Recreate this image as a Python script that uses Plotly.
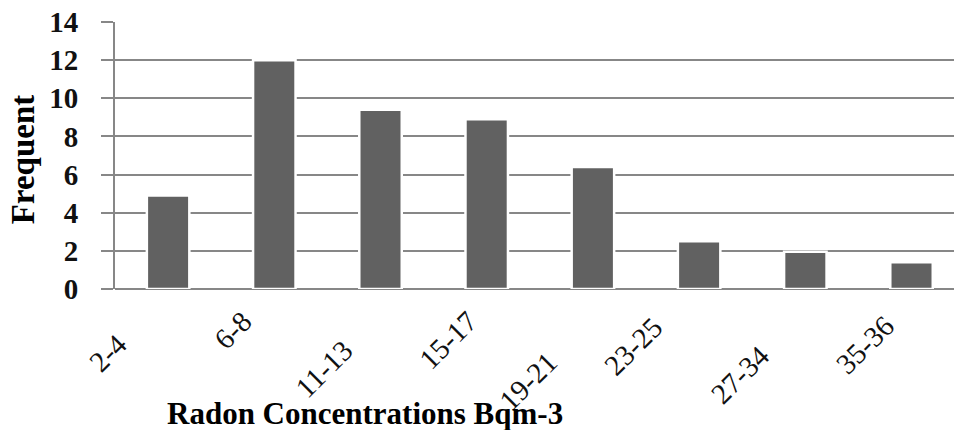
import plotly.graph_objects as go

categories = ["2-4", "6-8", "11-13", "15-17", "19-21", "23-25", "27-34", "35-36"]
frequency = [4.9, 12.0, 9.4, 8.9, 6.4, 2.5, 1.95, 1.4]
y_ticks = [0, 2, 4, 6, 8, 10, 12, 14]

# label placement offsets (px) of each rotated category label's top-right corner
label_dx = [-35, -16, -21, -3, -29, -30, -30, -11]
label_dy = [39, 16, 46, 16, 57, 22, 51, 21]

GRID = "#878787"
SERIF = "Liberation Serif, Times New Roman, serif"

fig = go.Figure()
fig.add_trace(go.Bar(
    x=list(range(len(categories))),
    y=frequency,
    marker=dict(color="#616161", line=dict(color="white", width=2.5)),
    width=0.4,
    hoverinfo="skip",
))

annotations = []
for i, lab in enumerate(categories):
    annotations.append(dict(
        x=i, y=0, xref="x", yref="y", text=lab, showarrow=False,
        textangle=-45, xanchor="right", yanchor="top",
        xshift=label_dx[i] + 1, yshift=-label_dy[i] + 2,
        font=dict(family=SERIF, size=29, color="#111111"),
        borderpad=0,
    ))
annotations.append(dict(
    x=-0.1103, y=0.4875, xref="paper", yref="paper", text="<b>Frequent</b>",
    showarrow=False, textangle=-90, xanchor="center", yanchor="middle",
    font=dict(family=SERIF, size=33, color="#000000"),
))
annotations.append(dict(
    x=0.298, y=-0.466, xref="paper", yref="paper",
    text="<b>Radon Concentrations Bqm-3</b>",
    showarrow=False, xanchor="center", yanchor="middle",
    font=dict(family=SERIF, size=31, color="#000000"),
))

fig.update_layout(
    width=954, height=430,
    margin=dict(l=115, r=0, t=22, b=141),
    paper_bgcolor="white", plot_bgcolor="white",
    showlegend=False,
    annotations=annotations,
    xaxis=dict(
        range=[-0.5, 7.4], showticklabels=False, showgrid=False,
        zeroline=False, showline=False, ticks="", fixedrange=True,
    ),
    yaxis=dict(
        range=[0, 14], tickvals=y_ticks, ticktext=[str(v) for v in y_ticks],
        showgrid=True, gridcolor=GRID, gridwidth=2,
        zeroline=True, zerolinecolor=GRID, zerolinewidth=2,
        showline=True, linecolor=GRID, linewidth=2,
        ticks="outside", ticklen=12, tickwidth=2, tickcolor=GRID,
        ticklabelstandoff=17,
        tickfont=dict(family=SERIF, size=29, color="#111111", weight="bold"),
    ),
)

fig.write_html("out.html")
